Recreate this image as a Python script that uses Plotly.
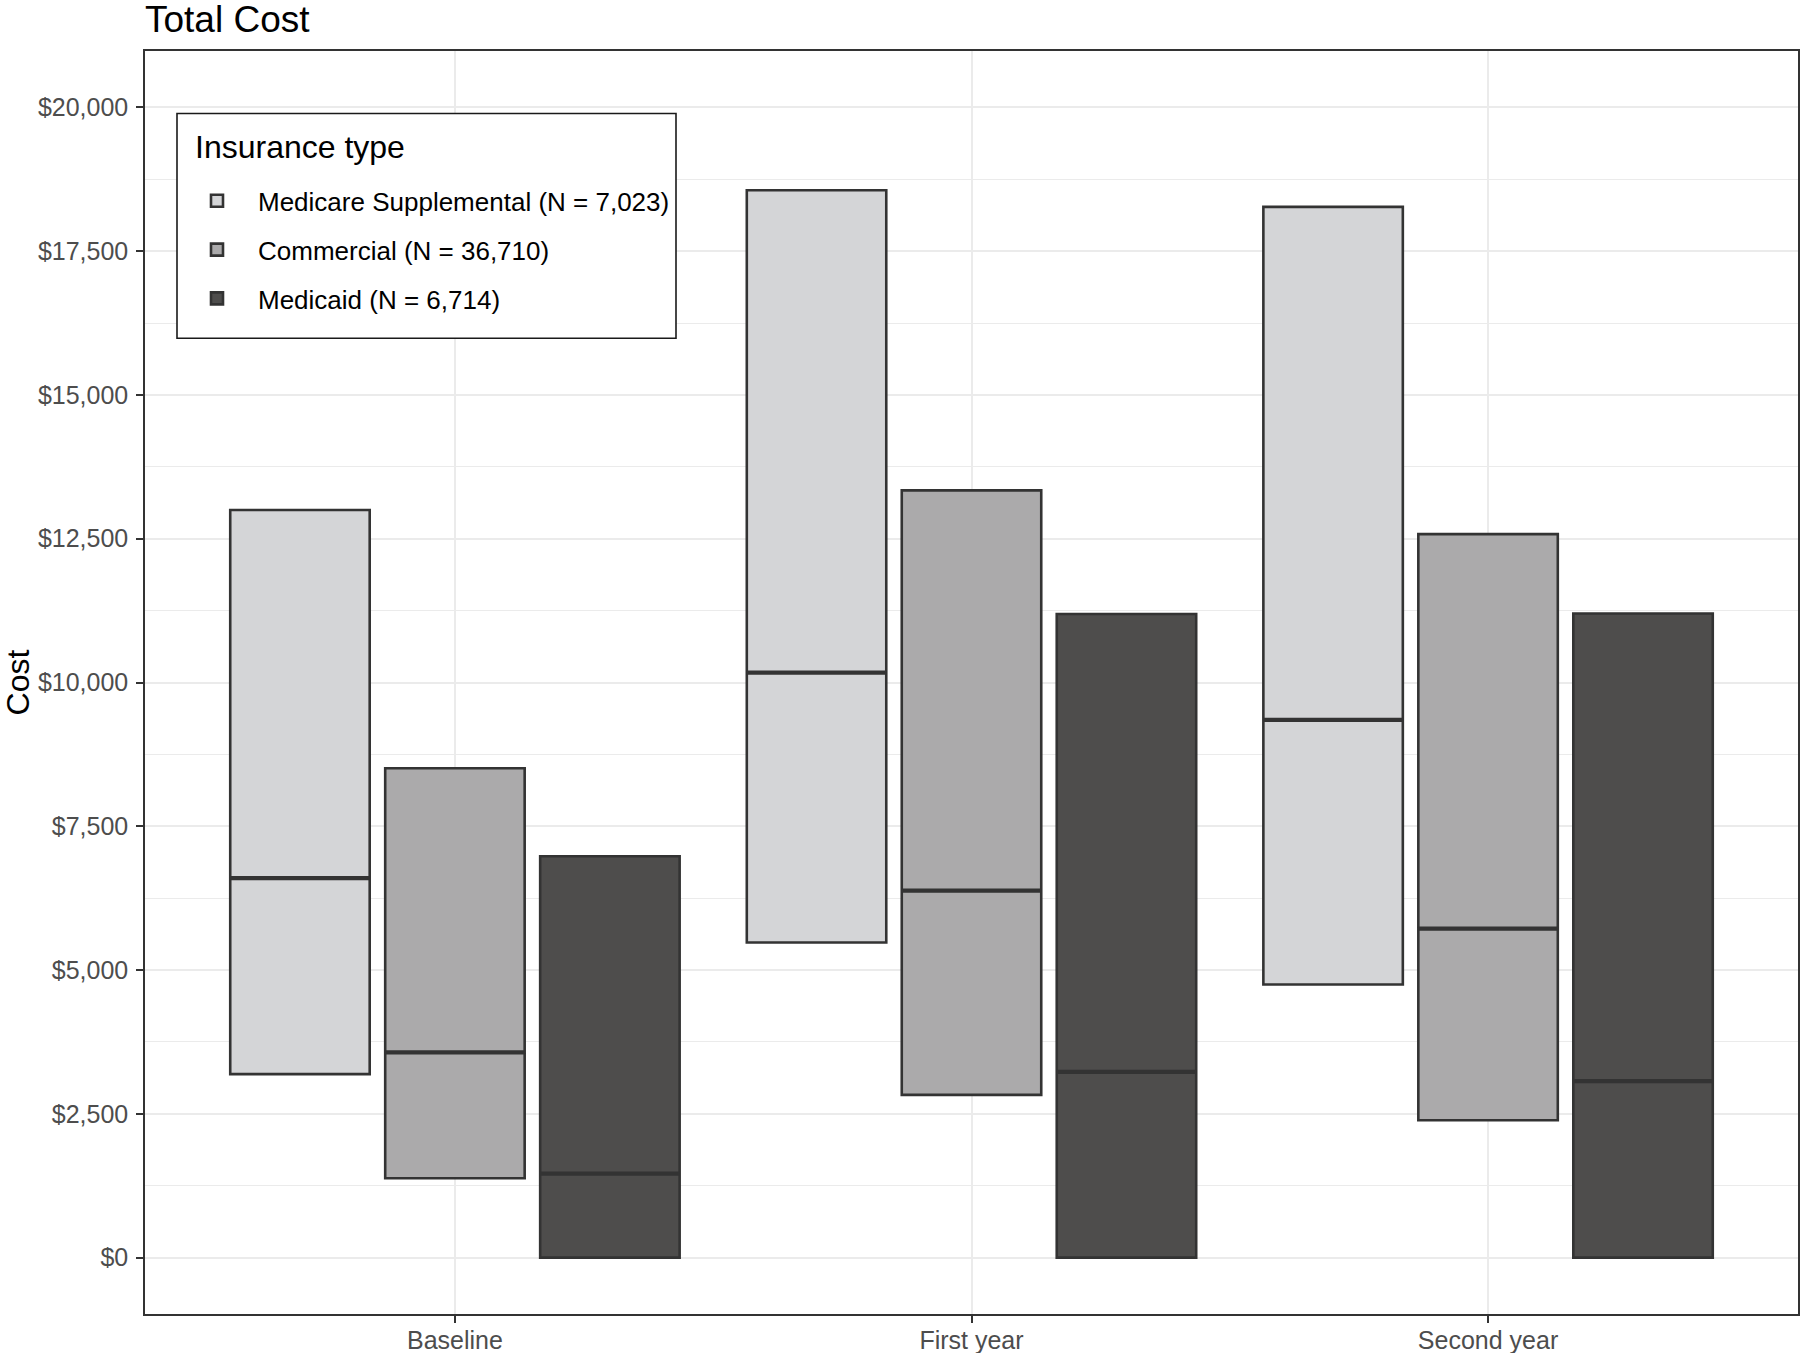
import plotly.graph_objects as go

# ---- data ----
categories = ["Baseline", "First year", "Second year"]
series_names = [
    "Medicare Supplemental (N = 7,023)",
    "Commercial (N = 36,710)",
    "Medicaid (N = 6,714)",
]
medicare_q1 = [3190, 5480, 4750]
medicare_median = [6600, 10170, 9350]
medicare_q3 = [13000, 18560, 18270]
commercial_q1 = [1380, 2830, 2390]
commercial_median = [3570, 6380, 5720]
commercial_q3 = [8510, 13340, 12580]
medicaid_q1 = [0, 0, 0]
medicaid_median = [1460, 3230, 3070]
medicaid_q3 = [6980, 11190, 11200]

y_tick_values = [0, 2500, 5000, 7500, 10000, 12500, 15000, 17500, 20000]
y_tick_labels = ["$0", "$2,500", "$5,000", "$7,500", "$10,000",
                 "$12,500", "$15,000", "$17,500", "$20,000"]

chart_title = "Total Cost"
legend_title = "Insurance type"
y_title = "Cost"

# ---- styles ----
fill_colors = ["#D4D5D7", "#ABAAAB", "#4E4D4C"]
line_color = "#333333"
font_family = "Liberation Sans, Arial, sans-serif"

stats = [
    (medicare_q1, medicare_median, medicare_q3),
    (commercial_q1, commercial_median, commercial_q3),
    (medicaid_q1, medicaid_median, medicaid_q3),
]

fig = go.Figure()
for i, (name, color, (q1, med, q3)) in enumerate(zip(series_names, fill_colors, stats)):
    fig.add_trace(
        go.Box(
            x=categories,
            q1=q1,
            median=med,
            q3=q3,
            lowerfence=q1,
            upperfence=q3,
            name=name,
            legendgroup=name,
            offsetgroup=str(i),
            fillcolor=color,
            line=dict(color=line_color, width=2.6),
            whiskerwidth=0,
            boxpoints=False,
            hoverinfo="skip",
        )
    )
# thicker median bars (ggplot "fatten")
for i, (name, (q1, med, q3)) in enumerate(zip(series_names, stats)):
    fig.add_trace(
        go.Box(
            x=categories,
            q1=med,
            median=med,
            q3=med,
            lowerfence=med,
            upperfence=med,
            name=name,
            legendgroup=name,
            offsetgroup=str(i),
            showlegend=False,
            fillcolor=line_color,
            line=dict(color=line_color, width=4.2),
            whiskerwidth=0,
            boxpoints=False,
            hoverinfo="skip",
        )
    )

# plot-area geometry helpers (pixels -> paper)
L, R, T, B = 145, 1798, 50.5, 1314.5
def px_x(x):
    return (x - L) / (R - L)
def px_y(y):
    return (B - y) / (B - T)

fig.update_layout(
    width=1800,
    height=1353,
    margin=dict(l=L, r=1800 - R, t=T, b=1353 - B, autoexpand=False),
    paper_bgcolor="white",
    plot_bgcolor="white",
    font=dict(family=font_family, color="black"),
    boxmode="group",
    boxgap=0.1,
    boxgroupgap=0.1,
    title=dict(
        text=chart_title,
        x=0,
        xref="paper",
        xanchor="left",
        y=1 - 19 / 1353,
        yref="container",
        yanchor="middle",
        automargin=False,
        font=dict(size=37, color="black", family=font_family),
    ),
    legend=dict(
        x=px_x(176),
        y=px_y(177),
        xanchor="left",
        yanchor="top",
        bgcolor="rgba(0,0,0,0)",
        borderwidth=0,
        font=dict(size=26, color="black", family=font_family),
        itemwidth=72,
        traceorder="grouped",
        tracegroupgap=12,
    ),
    showlegend=True,
    shapes=[
        dict(
            type="rect",
            xref="paper", yref="paper",
            x0=px_x(177), x1=px_x(676), y0=px_y(338), y1=px_y(113),
            line=dict(color="#1a1a1a", width=1.6),
            fillcolor="white",
            layer="above",
        )
    ],
    annotations=[
        dict(
            text=legend_title,
            xref="paper", yref="paper",
            x=px_x(193), y=px_y(147),
            xanchor="left", yanchor="middle",
            showarrow=False,
            font=dict(size=32, color="black", family=font_family),
        )
    ],
)

fig.update_xaxes(
    type="category",
    categoryorder="array",
    categoryarray=categories,
    range=[-0.6, 2.6],
    automargin=False,
    showgrid=True,
    gridcolor="#EBEBEB",
    gridwidth=2,
    showline=True,
    mirror=True,
    linecolor=line_color,
    linewidth=1.5,
    ticks="outside",
    ticklen=7,
    tickwidth=2,
    tickcolor=line_color,
    ticklabelstandoff=-4,
    tickfont=dict(size=25, color="#4D4D4D", family=font_family),
    zeroline=False,
)

fig.update_yaxes(
    range=[-980, 20980],
    tickvals=y_tick_values,
    ticktext=y_tick_labels,
    automargin=False,
    showgrid=True,
    gridcolor="#EBEBEB",
    gridwidth=2,
    minor=dict(dtick=1250, tick0=0, showgrid=True, gridcolor="#EBEBEB", gridwidth=1, ticks=""),
    showline=True,
    mirror=True,
    linecolor=line_color,
    linewidth=1.5,
    ticks="outside",
    ticklen=7,
    tickwidth=2,
    tickcolor=line_color,
    ticklabelstandoff=3,
    tickfont=dict(size=25, color="#4D4D4D", family=font_family),
    title=dict(text=y_title, standoff=20, font=dict(size=32, color="black", family=font_family)),
    zeroline=False,
)

fig.write_html(
    "out.html",
    config={"displayModeBar": False},
    post_script="document.body.style.margin='0';document.body.style.padding='0';",
)
